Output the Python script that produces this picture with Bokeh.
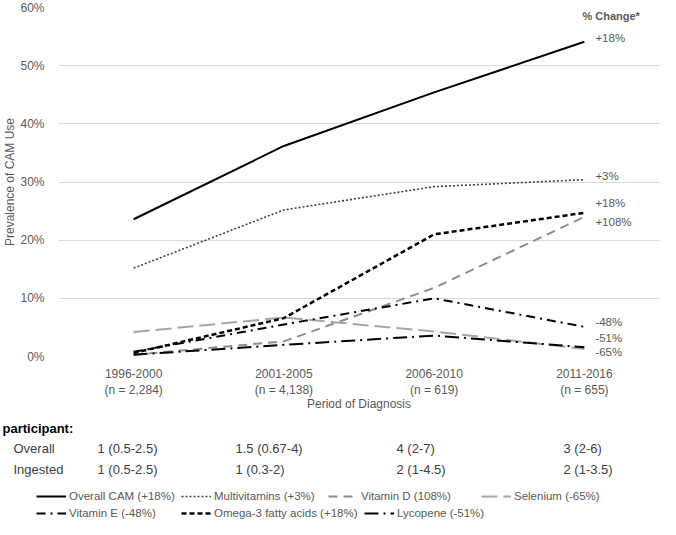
from bokeh.plotting import figure
from bokeh.layouts import column, row
from bokeh.models import (Range1d, FixedTicker, PrintfTickFormatter, Label, Legend,
                          LegendItem, ColumnDataSource)
from bokeh.core.properties import value
from bokeh.embed import file_html
from bokeh.resources import INLINE

# ---------------- data ----------------
periods = ["1996-2000", "2001-2005", "2006-2010", "2011-2016"]
n_sizes = ["2,284", "4,138", "619", "655"]

series_names = ["Overall CAM (+18%)", "Multivitamins (+3%)", "Vitamin D (108%)",
                "Selenium (-65%)", "Vitamin E (-48%)", "Omega-3 fatty acids (+18%)",
                "Lycopene (-51%)"]
overall_cam = [23.6, 36.2, 45.4, 54.1]
multivitamins = [15.2, 25.2, 29.2, 30.4]
vitamin_d = [0.3, 2.6, 11.8, 24.0]
selenium = [4.2, 6.7, 4.3, 1.3]
vitamin_e = [0.8, 5.5, 10.0, 5.1]
omega3 = [0.6, 6.6, 21.0, 24.7]
lycopene = [0.3, 2.0, 3.6, 1.6]
pct_change = ["+18%", "+3%", "+108%", "-65%", "-48%", "+18%", "-51%"]

yticks = [0, 10, 20, 30, 40, 50, 60]

table_title = "participant:"
row_names = ["Overall", "Ingested"]
overall_median = ["1 (0.5-2.5)", "1.5 (0.67-4)", "4 (2-7)", "3 (2-6)"]
ingested_median = ["1 (0.5-2.5)", "1 (0.3-2)", "2 (1-4.5)", "2 (1-3.5)"]

# ---------------- styles ----------------
FONT = "Liberation Sans"
GRAY = "#595959"
TXT = "#404040"
styles = [
    dict(line_color="#000000", line_width=2, line_dash="solid"),
    dict(line_color="#404040", line_width=1.6, line_dash="2 2"),
    dict(line_color="#8c8c8c", line_width=2, line_dash="9 6"),
    dict(line_color="#a6a6a6", line_width=2, line_dash="16 6"),
    dict(line_color="#000000", line_width=2, line_dash="9 5 2 5"),
    dict(line_color="#000000", line_width=2.5, line_dash="5 3"),
    dict(line_color="#000000", line_width=2, line_dash="14 5 2 5"),
]
label_offsets = [-4, -4, 5, 3, -5, -10, -9]

W = 660
H_TOP = 414
H_BOT = 105
FL, FR, FT, FB = 56, 1, 7, 50

xs = [i + 0.5 for i in range(len(periods))]
all_series = [overall_cam, multivitamins, vitamin_d, selenium, vitamin_e, omega3, lycopene]

# ---------------- chart ----------------
p = figure(width=W, height=H_TOP, output_backend="svg", toolbar_location=None,
           x_range=Range1d(0, len(periods)), y_range=Range1d(yticks[0], yticks[-1]),
           min_border_left=FL, min_border_right=FR, min_border_top=FT,
           min_border_bottom=FB)
p.outline_line_color = None
p.border_fill_color = "white"
p.xgrid.grid_line_color = None
p.ygrid.grid_line_color = "#d9d9d9"
p.ygrid.grid_line_width = 1

p.xaxis.ticker = FixedTicker(ticks=xs)
p.xaxis.major_label_overrides = {x: f"{per}\n(n = {n})" for x, per, n in zip(xs, periods, n_sizes)}
p.xaxis.axis_line_color = None
p.xaxis.major_tick_line_color = None
p.xaxis.minor_tick_line_color = None
p.xaxis.major_label_standoff = 4
p.xaxis.major_label_text_font = FONT
p.xaxis.major_label_text_font_size = "12px"
p.xaxis.major_label_text_color = GRAY
p.xaxis.axis_label = "Period of Diagnosis"
p.xaxis.axis_label_text_font = FONT
p.xaxis.axis_label_text_font_size = "12px"
p.xaxis.axis_label_text_font_style = "normal"
p.xaxis.axis_label_text_color = GRAY
p.xaxis.axis_label_standoff = -3

p.yaxis.ticker = FixedTicker(ticks=yticks)
p.yaxis.formatter = PrintfTickFormatter(format="%d%%")
p.yaxis.axis_line_color = None
p.yaxis.major_tick_line_color = None
p.yaxis.minor_tick_line_color = None
p.yaxis.major_label_standoff = 8
p.yaxis.major_label_text_font = FONT
p.yaxis.major_label_text_font_size = "12px"
p.yaxis.major_label_text_color = GRAY
p.yaxis.axis_label = "Prevalence of CAM Use"
p.yaxis.axis_label_text_font = FONT
p.yaxis.axis_label_text_font_size = "12px"
p.yaxis.axis_label_text_font_style = "normal"
p.yaxis.axis_label_text_color = GRAY
p.yaxis.axis_label_standoff = 0

for vals, st in zip(all_series, styles):
    p.line(xs, vals, line_join="round", **st)

src = ColumnDataSource(dict(
    x=[xs[-1]] * len(all_series),
    y=[s[-1] for s in all_series],
    t=pct_change,
    yo=label_offsets,
))
p.text(x="x", y="y", text="t", y_offset="yo", x_offset=11, source=src,
       text_font=value(FONT), text_font_size="11.5px", text_color=GRAY,
       text_baseline="middle", text_align="left")

p.add_layout(Label(x=xs[-1], y=yticks[-1], x_offset=-2, y_offset=-8,
                   text="% Change*", text_font=FONT, text_font_size="11px",
                   text_font_style="bold", text_color=GRAY, text_baseline="middle"))

# ---------------- table + legend ----------------
q = figure(width=W, height=H_BOT, output_backend="svg", toolbar_location=None,
           x_range=Range1d(0, W), y_range=Range1d(H_BOT, 0),
           x_axis_location=None, y_axis_location=None,
           min_border_left=0, min_border_right=0, min_border_top=0, min_border_bottom=0)
q.grid.visible = False
q.outline_line_color = None
q.border_fill_color = "white"

col_x = [97, 235, 396, 563]
row_y = [34, 55]
title_y = 14

q.text(x=[2], y=[title_y], text=[table_title], text_font=value(FONT),
       text_font_size="13px", text_font_style="bold", text_color="#000000",
       text_baseline="middle")
q.text(x=[13] * len(row_names), y=row_y, text=row_names, text_font=value(FONT),
       text_font_size="13px", text_color=TXT, text_baseline="middle")
for ry, row_vals in zip(row_y, [overall_median, ingested_median]):
    q.text(x=col_x, y=[ry] * len(row_vals), text=row_vals, text_font=value(FONT),
           text_font_size="13px", text_color=TXT, text_baseline="middle")

# legend keys (same line styles as the chart's series)
nan = float("nan")
proxies = [q.line(x=[nan, nan], y=[nan, nan], **st) for st in styles]
legend_pos = [(36, 17), (181, 17), (328, 17), (481, 17),
              (36, 0), (181, 0), (364, 0)]
for name, r, (lx, ly) in zip(series_names, proxies, legend_pos):
    lg = Legend(items=[LegendItem(label=name, renderers=[r])], location=(lx, ly),
                orientation="horizontal", padding=0, margin=0, spacing=0,
                glyph_width=30, glyph_height=12, label_height=12, label_standoff=3,
                label_text_font=FONT, label_text_font_size="11.5px",
                label_text_color=GRAY, border_line_color=None,
                background_fill_alpha=0)
    q.add_layout(lg, "center")

layout = column(p, row(q), spacing=0)
open("out.html", "w").write(file_html(layout, INLINE))
